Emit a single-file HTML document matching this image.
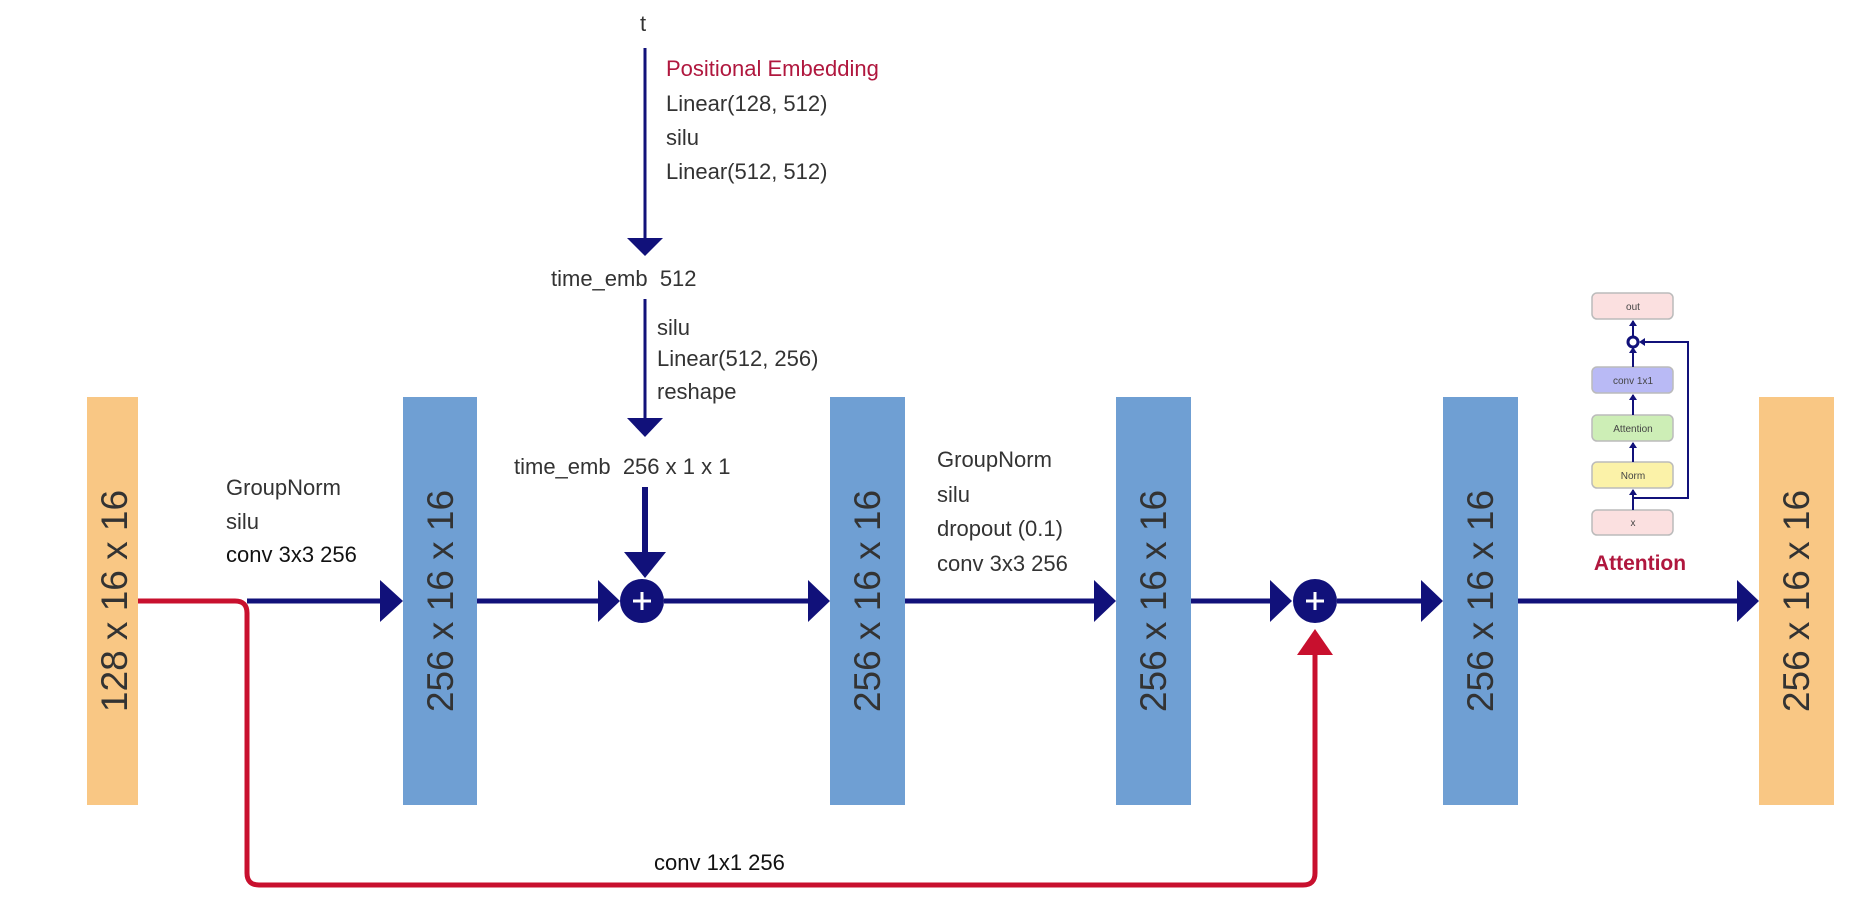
<!DOCTYPE html>
<html><head><style>body{margin:0;background:#fff}svg{display:block}</style></head>
<body>
<svg width="1862" height="905" viewBox="0 0 1862 905" xmlns="http://www.w3.org/2000/svg" font-family="Liberation Sans, sans-serif">
<!-- bars -->
<rect x="87" y="397" width="51" height="408" fill="#f9c784"/>
<rect x="1759" y="397" width="75" height="408" fill="#f9c784"/>
<rect x="403" y="397" width="74" height="408" fill="#6f9fd3"/>
<rect x="830" y="397" width="75" height="408" fill="#6f9fd3"/>
<rect x="1116" y="397" width="75" height="408" fill="#6f9fd3"/>
<rect x="1443" y="397" width="75" height="408" fill="#6f9fd3"/>
<g font-size="37" fill="#333" text-anchor="middle">
<text transform="translate(127,601) rotate(-90)">128 x 16 x 16</text>
<text transform="translate(453,601) rotate(-90)">256 x 16 x 16</text>
<text transform="translate(880,601) rotate(-90)">256 x 16 x 16</text>
<text transform="translate(1166,601) rotate(-90)">256 x 16 x 16</text>
<text transform="translate(1493,601) rotate(-90)">256 x 16 x 16</text>
<text transform="translate(1809,601) rotate(-90)">256 x 16 x 16</text>
</g>
<!-- red skip -->
<path d="M138,601 H235 Q247,601 247,613 V873 Q247,885 259,885 H1303 Q1315,885 1315,873 V655" fill="none" stroke="#c8102e" stroke-width="5"/>
<path d="M1297,655 L1333,655 L1315,629 z" fill="#c8102e"/>
<!-- main line -->
<g stroke="#11117a" stroke-width="5">
<line x1="247" y1="601" x2="385" y2="601"/>
<line x1="477" y1="601" x2="602" y2="601"/>
<line x1="664" y1="601" x2="810" y2="601"/>
<line x1="905" y1="601" x2="1096" y2="601"/>
<line x1="1191" y1="601" x2="1272" y2="601"/>
<line x1="1337" y1="601" x2="1424" y2="601"/>
<line x1="1518" y1="601" x2="1740" y2="601"/>
</g>
<g fill="#11117a">
<path d="M380,580 L403,601 L380,622 z"/>
<path d="M598,580 L620,601 L598,622 z"/>
<path d="M808,580 L830,601 L808,622 z"/>
<path d="M1094,580 L1116,601 L1094,622 z"/>
<path d="M1270,580 L1292,601 L1270,622 z"/>
<path d="M1421,580 L1443,601 L1421,622 z"/>
<path d="M1737,580 L1759,601 L1737,622 z"/>
<circle cx="642" cy="601" r="22"/>
<circle cx="1315" cy="601" r="22"/>
</g>
<g stroke="#fff" stroke-width="3"><line x1="633" y1="601" x2="651" y2="601"/><line x1="642" y1="592" x2="642" y2="610"/><line x1="1306" y1="601" x2="1324" y2="601"/><line x1="1315" y1="592" x2="1315" y2="610"/></g>
<!-- vertical -->
<line x1="645" y1="48" x2="645" y2="240" stroke="#11117a" stroke-width="3"/>
<path d="M627,238 L663,238 L645,256 z" fill="#11117a"/>
<line x1="645" y1="299" x2="645" y2="420" stroke="#11117a" stroke-width="3"/>
<path d="M627,418 L663,418 L645,437 z" fill="#11117a"/>
<line x1="645" y1="487" x2="645" y2="555" stroke="#11117a" stroke-width="6"/>
<path d="M624,552 L666,552 L645,578 z" fill="#11117a"/>
<!-- texts -->
<g font-size="22" fill="#333">
<text x="640" y="31" font-size="22">t</text>
<text x="666" y="76" fill="#b0173e">Positional Embedding</text>
<text x="666" y="111">Linear(128, 512)</text>
<text x="666" y="145">silu</text>
<text x="666" y="179">Linear(512, 512)</text>
<text x="551" y="286" xml:space="preserve">time_emb  512</text>
<text x="657" y="335">silu</text>
<text x="657" y="366">Linear(512, 256)</text>
<text x="657" y="399">reshape</text>
<text x="514" y="474" xml:space="preserve">time_emb  256 x 1 x 1</text>
<text x="226" y="495">GroupNorm</text>
<text x="226" y="529">silu</text>
<text x="226" y="562" fill="#111">conv 3x3 256</text>
<text x="937" y="467">GroupNorm</text>
<text x="937" y="502">silu</text>
<text x="937" y="536">dropout (0.1)</text>
<text x="937" y="571">conv 3x3 256</text>
<text x="654" y="870" fill="#111">conv 1x1 256</text>
</g>
<!-- mini attention -->
<g stroke="#bbb" stroke-width="1.5">
<rect x="1592" y="293" width="81" height="26" rx="5" fill="#fbe0e0"/>
<rect x="1592" y="367" width="81" height="26" rx="5" fill="#b9baf5"/>
<rect x="1592" y="415" width="81" height="26" rx="5" fill="#cdeeb6"/>
<rect x="1592" y="462" width="81" height="26" rx="5" fill="#fbf2a8"/>
<rect x="1592" y="510" width="81" height="25" rx="5" fill="#fbe0e0"/>
</g>
<g stroke="#11117a" stroke-width="2" fill="none">
<line x1="1633" y1="510" x2="1633" y2="490"/>
<line x1="1633" y1="462" x2="1633" y2="443"/>
<line x1="1633" y1="415" x2="1633" y2="395"/>
<line x1="1633" y1="367" x2="1633" y2="348"/>
<line x1="1633" y1="336" x2="1633" y2="321"/>
<path d="M1633,498 H1688 V342 H1642"/>
<circle cx="1633" cy="342" r="5" stroke-width="3"/>
</g>
<g fill="#11117a">
<path d="M1629,495 L1637,495 L1633,489 z"/>
<path d="M1629,448 L1637,448 L1633,442 z"/>
<path d="M1629,400 L1637,400 L1633,394 z"/>
<path d="M1629,353 L1637,353 L1633,347 z"/>
<path d="M1629,326 L1637,326 L1633,320 z"/>
<path d="M1645,338 L1645,346 L1639,342 z"/>
</g>
<g font-size="10" fill="#444" text-anchor="middle">
<text x="1633" y="310">out</text><text x="1633" y="384">conv 1x1</text><text x="1633" y="432">Attention</text><text x="1633" y="479">Norm</text><text x="1633" y="526">x</text>
</g>
<text x="1640" y="570" font-size="21" font-weight="bold" fill="#b0173e" text-anchor="middle">Attention</text>
</svg>
</body></html>
